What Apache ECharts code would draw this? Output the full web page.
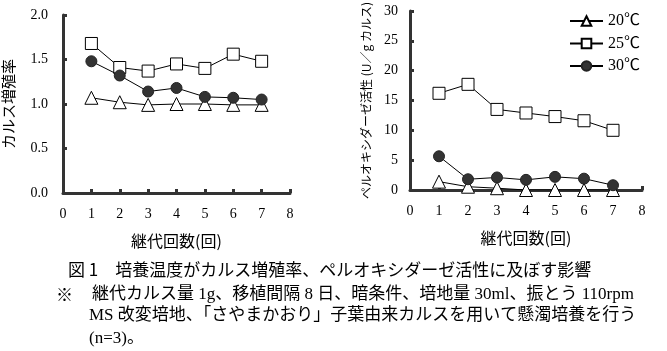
<!DOCTYPE html>
<html><head><meta charset="utf-8">
<script src="https://cdn.jsdelivr.net/npm/echarts@6/dist/echarts.min.js"></script>
<style>html,body{margin:0;padding:0;background:#fff}#c{width:667px;height:351px}</style>
</head><body><div id="c"></div>
<script>
const passages = [1, 2, 3, 4, 5, 6, 7];
const seriesNames = ['20℃', '25℃', '30℃'];
const growth20 = [1.07, 1.02, 0.99, 1.00, 1.00, 0.99, 0.99];
const growth25 = [1.68, 1.41, 1.37, 1.45, 1.40, 1.56, 1.48];
const growth30 = [1.48, 1.32, 1.14, 1.18, 1.08, 1.07, 1.05];
const perox20 = [1.4, 0.55, 0.3, 0, 0, 0, 0];
const perox25 = [16.2, 17.7, 13.5, 12.9, 12.3, 11.6, 10.0];
const perox30 = [5.65, 1.8, 2.1, 1.7, 2.2, 1.9, 0.8];
const captionLines = [
  '図 1　培養温度がカルス増殖率、ペルオキシダーゼ活性に及ぼす影響',
  '※',
  '継代カルス量 1g、移植間隔 8 日、暗条件、培地量 30ml、振とう 110rpm',
  'MS 改変培地、「さやまかおり」子葉由来カルスを用いて懸濁培養を行う',
  '(n=3)。'
];

const serif = '"Liberation Serif", "Noto Sans CJK JP", serif';
const jp = '"Noto Sans CJK JP", sans-serif';
const axisColor = '#333';

function mk(vals) { return passages.map((p, i) => [p, vals[i]]); }

const symbolDefs = [
  { symbol: 'triangle', symbolSize: 13, itemStyle: { color: '#fff', borderColor: '#000', borderWidth: 1 } },
  { symbol: 'rect', symbolSize: 12, itemStyle: { color: '#fff', borderColor: '#000', borderWidth: 1 } },
  { symbol: 'circle', symbolSize: 11, itemStyle: { color: '#333', borderColor: '#222', borderWidth: 1 } }
];

function xAxis(gi) {
  return {
    type: 'value', gridIndex: gi, min: 0, max: 8, interval: 1,
    name: '継代回数(回)', nameLocation: 'middle', nameGap: 40,
    nameTextStyle: { fontFamily: jp, fontSize: 16, color: '#000' },
    axisLine: { lineStyle: { color: axisColor, width: 3, cap: 'round' } },
    axisTick: { inside: true, length: 4, lineStyle: { color: axisColor, width: 3 } },
    axisLabel: { fontFamily: serif, fontSize: 14, color: '#000', margin: 14 },
    splitLine: { show: false }
  };
}

function series(gi, data, idx) {
  return Object.assign({
    name: seriesNames[idx], type: 'line', xAxisIndex: gi, yAxisIndex: gi,
    data: data, lineStyle: { color: '#000', width: 1 }, showAllSymbol: true,
    animation: false, z: 3 + idx
  }, symbolDefs[idx]);
}

const chart = echarts.init(document.getElementById('c'), null, { renderer: 'canvas' });
chart.setOption({
  backgroundColor: '#fff',
  animation: false,
  grid: [
    { left: 61, top: 15, width: 229, height: 178 },
    { left: 410, top: 8, width: 232, height: 182 }
  ],
  legend: {
    orient: 'vertical', left: 564, top: 8, itemWidth: 33, itemHeight: 12, itemGap: 6.5,
    textStyle: { fontFamily: serif, fontSize: 16, color: '#000' },
    data: seriesNames
  },
  xAxis: [xAxis(0), xAxis(1)],
  yAxis: [
    {
      type: 'value', gridIndex: 0, min: 0, max: 2, interval: 0.5,
      name: 'カルス増殖率', nameLocation: 'middle', nameGap: 47,
      nameTextStyle: { fontFamily: jp, fontSize: 15, color: '#000' },
      axisLine: { show: true, lineStyle: { color: axisColor, width: 3, cap: 'round' } },
      axisTick: { show: true, inside: true, length: 4, lineStyle: { color: axisColor, width: 3 } },
      axisLabel: { fontFamily: serif, fontSize: 14, color: '#000', margin: 15, formatter: v => v.toFixed(1) },
      splitLine: { show: false }
    },
    {
      type: 'value', gridIndex: 1, min: 0, max: 30, interval: 5,
      name: 'ペルオキシダーゼ活性 (U／g カルス)', nameLocation: 'middle', nameGap: 38,
      nameTextStyle: { fontFamily: jp, fontSize: 12, color: '#000' },
      axisLine: { show: true, lineStyle: { color: axisColor, width: 3, cap: 'round' } },
      axisTick: { show: true, inside: true, length: 4, lineStyle: { color: axisColor, width: 3 } },
      axisLabel: { fontFamily: serif, fontSize: 14, color: '#000', margin: 12 },
      splitLine: { show: false }
    }
  ],
  series: [
    series(0, mk(growth20), 0), series(0, mk(growth25), 1), series(0, mk(growth30), 2),
    series(1, mk(perox20), 0), series(1, mk(perox25), 1), series(1, mk(perox30), 2)
  ],
  graphic: [
    { type: 'text', left: 68, top: 261, style: { text: captionLines[0], font: '17px ' + jp, fill: '#000' } },
    { type: 'text', left: 56, top: 286, style: { text: captionLines[1], font: '17px ' + jp, fill: '#000' } },
    { type: 'text', left: 92, top: 286, style: { text: captionLines[2], font: '17px ' + serif, fill: '#000' } },
    { type: 'text', left: 89, top: 307, style: { text: captionLines[3], font: '17px ' + serif, fill: '#000' } },
    { type: 'text', left: 89, top: 330, style: { text: captionLines[4], font: '17px ' + serif, fill: '#000' } }
  ]
});
</script></body></html>
